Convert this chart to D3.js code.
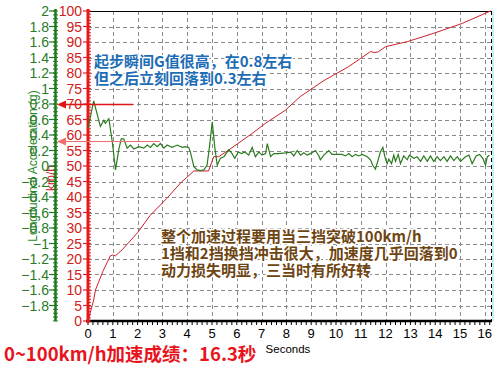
<!DOCTYPE html>
<html><head><meta charset="utf-8">
<script src="https://cdn.jsdelivr.net/npm/d3@7"></script>
<style>body{margin:0;background:#fff}svg{display:block}</style>
</head><body>
<script>
// ---- data ----
const speedData = [[0,0],[0.23,6.8],[0.3,10],[0.6,16],[0.9,21],[1.0,21.3],[1.1,21],[1.38,23],[2.0,28.5],[2.5,34],[3.17,39.5],[3.73,44.5],[4.27,48.4],[4.86,48.4],[5.07,53],[5.27,53],[5.68,55.2],[6.62,60.5],[7.16,63.8],[7.96,68],[8.56,72.4],[9.5,77.5],[10.5,82],[10.99,84.7],[11.39,86.9],[11.55,86.6],[11.7,86.8],[12.0,88.5],[12.87,90.1],[13.94,92.8],[15.09,96],[16.23,100]];
const accelData = [[0,0.49],[0.23,0.84],[0.5,0.51],[0.64,0.59],[0.7,0.55],[0.84,0.61],[0.98,0.31],[1.11,-0.05],[1.24,0.21],[1.34,0.35],[1.44,0.35],[1.58,0.23],[1.71,0.27],[1.85,0.22],[2.05,0.25],[2.25,0.23],[2.39,0.27],[2.52,0.24],[2.65,0.29],[2.79,0.25],[2.92,0.29],[3.06,0.23],[3.19,0.27],[3.39,0.24],[3.6,0.27],[3.8,0.24],[3.93,0.25],[4.06,0.24],[4.13,0.18],[4.27,-0.01],[4.4,-0.05],[4.54,-0.06],[4.67,-0.05],[4.8,0.01],[4.9,0.25],[5.01,0.57],[5.11,0.25],[5.21,0.01],[5.34,0.1],[5.48,0.12],[5.68,0.21],[5.81,0.16],[5.92,0.1],[6.06,0.18],[6.19,0.16],[6.32,0.18],[6.48,0.14],[6.62,0.24],[6.75,0.12],[6.89,0.18],[7.02,0.14],[7.16,0.16],[7.23,0.29],[7.36,0.12],[7.49,0.16],[7.69,0.16],[7.96,0.17],[8.17,0.18],[8.3,0.13],[8.44,0.2],[8.57,0.14],[8.7,0.17],[8.84,0.14],[8.97,0.16],[9.17,0.2],[9.31,0.13],[9.37,0.08],[9.51,0.14],[9.71,0.2],[9.84,0.15],[10.05,0.15],[10.25,0.15],[10.38,0.13],[10.52,0.16],[10.65,0.12],[10.79,0.15],[10.92,0.13],[11.06,0.15],[11.26,0.12],[11.39,0.08],[11.48,0.01],[11.59,-0.04],[11.7,0.08],[11.79,0.18],[11.89,0.24],[11.97,0.12],[12.06,0.03],[12.13,0.09],[12.24,0.03],[12.33,0.14],[12.4,0.06],[12.51,0.15],[12.6,0.03],[12.73,0.13],[12.87,0.08],[12.96,0.14],[13.14,0.1],[13.27,0.12],[13.41,0.06],[13.54,0.13],[13.68,0.06],[13.81,0.13],[13.94,0.06],[14.08,0.12],[14.21,0.07],[14.35,0.12],[14.48,0.06],[14.62,0.13],[14.75,0.07],[14.89,0.12],[15.02,0.06],[15.22,0.12],[15.36,0.14],[15.49,0.03],[15.65,0.13],[15.79,0.15],[15.92,0.1],[16.03,0.01],[16.1,0.12],[16.19,0.14]];
const xTicks = d3.range(0, 17, 1);
const speedTicks = d3.range(0, 101, 5);
const accelTicks = d3.range(-9, 11).map(i => +(i * 0.2).toFixed(1));
const arrowLevels = [0.8, 0.32];
const note1 = ["起步瞬间G值很高，在0.8左右", "但之后立刻回落到0.3左右"];
const note2 = ["整个加速过程要用当三挡突破100km/h", "1挡和2挡换挡冲击很大，加速度几乎回落到0", "动力损失明显，三当时有所好转"];
const resultText = "0~100km/h加速成绩：16.3秒";

// ---- scales ----
const W = 500, H = 370;
const x = d3.scaleLinear().domain([0, 16.25]).range([88, 491]);
const yV = d3.scaleLinear().domain([0, 100]).range([321, 11]);
const yG = d3.scaleLinear().domain([-2, 2]).range([321, 11]);

const svg = d3.select("body").append("svg").attr("width", W).attr("height", H)
  .style("font-family", "Arial, 'Liberation Sans', sans-serif");

// grid
const grid = svg.append("g").attr("stroke", "#8a8a8a").attr("stroke-dasharray", "4,3").attr("stroke-width", 1);
grid.selectAll(".v").data(xTicks.filter(d => d > 0)).join("line")
  .attr("x1", d => Math.round(x(d)) + 0.5).attr("x2", d => Math.round(x(d)) + 0.5)
  .attr("y1", 11).attr("y2", 321);
grid.selectAll(".h").data(speedTicks.filter(d => d > 0 && d < 100)).join("line")
  .attr("y1", d => Math.round(yV(d)) + 0.5).attr("y2", d => Math.round(yV(d)) + 0.5)
  .attr("x1", 88).attr("x2", 491);

// borders
svg.append("line").attr("x1", 88).attr("x2", 491).attr("y1", 11.5).attr("y2", 11.5).attr("stroke", "#000");
svg.append("line").attr("x1", 491.5).attr("x2", 491.5).attr("y1", 11).attr("y2", 321).attr("stroke", "#000").attr("stroke-dasharray", "4,3");
svg.append("line").attr("x1", 493).attr("x2", 493).attr("y1", 11).attr("y2", 321).attr("stroke", "#bff0f5").attr("stroke-width", 2);

// x axis
const xAxis = svg.append("g").attr("transform", "translate(0,321)");
xAxis.append("line").attr("x1", 86).attr("x2", 492).attr("stroke", "#000").attr("stroke-width", 2.5);
xAxis.selectAll(".mt").data(d3.range(0, 16.21, 0.2)).join("line")
  .attr("x1", d => x(d)).attr("x2", d => x(d)).attr("y1", 1).attr("y2", 4).attr("stroke", "#000");
xAxis.selectAll("text").data(xTicks).join("text")
  .attr("x", d => x(d)).attr("y", 17).attr("text-anchor", "middle")
  .attr("font-size", 13).attr("fill", "#000").text(d => d);
svg.append("text").attr("x", 288).attr("y", 353).attr("text-anchor", "middle")
  .attr("font-size", 11.5).attr("fill", "#000").text("Seconds");

// red speed axis
const ra = svg.append("g");
ra.append("text").attr("transform", "translate(55,178) rotate(-90)").attr("text-anchor", "middle")
  .attr("font-size", 12).attr("fill", "#d02020").text("km/h");
ra.selectAll(".mn").data(d3.range(0, 100.1, 1)).join("line")
  .attr("x1", 88).attr("x2", 91).attr("y1", d => yV(d)).attr("y2", d => yV(d)).attr("stroke", "#e02020").attr("stroke-width", 1);
ra.selectAll(".mj").data(speedTicks).join("line")
  .attr("x1", 83).attr("x2", 88).attr("y1", d => yV(d)).attr("y2", d => yV(d)).attr("stroke", "#e02020").attr("stroke-width", 1.2);
ra.selectAll("text.l").data(speedTicks).join("text").attr("class", "l")
  .attr("x", 82).attr("y", d => yV(d) + 5).attr("text-anchor", "end")
  .attr("font-size", 14).attr("fill", "#d02020").text(d => d);
ra.append("line").attr("x1", 88).attr("x2", 88).attr("y1", 9).attr("y2", 323).attr("stroke", "#e81818").attr("stroke-width", 3);

// green accel axis
const ga = svg.append("g");
ga.append("text").attr("transform", "translate(37,166) rotate(-90)").attr("text-anchor", "middle")
  .attr("font-size", 12).attr("fill", "#2a8a2a").text("Longitudinal Acceleration (g)");
ga.selectAll(".mn").data(d3.range(-40, 41).map(i => i * 0.05)).join("line")
  .attr("x1", 53).attr("x2", 58).attr("y1", d => yG(d)).attr("y2", d => yG(d)).attr("stroke", "#1f7a1f").attr("stroke-width", 1);
ga.selectAll(".mj").data(accelTicks).join("line")
  .attr("x1", 49).attr("x2", 55).attr("y1", d => yG(d)).attr("y2", d => yG(d)).attr("stroke", "#1f7a1f").attr("stroke-width", 1.2);
ga.selectAll("text.l").data(accelTicks).join("text").attr("class", "l")
  .attr("x", 49).attr("y", d => yG(d) + 5).attr("text-anchor", "end")
  .attr("font-size", 14).attr("fill", "#2a7a2a").text(d => d3.format("~g")(d));
ga.append("line").attr("x1", 55.5).attr("x2", 55.5).attr("y1", 9).attr("y2", 321).attr("stroke", "#1a7a1a").attr("stroke-width", 2.5);

// series
svg.append("path").datum(speedData)
  .attr("d", d3.line().x(d => x(d[0])).y(d => yV(d[1])))
  .attr("fill", "none").attr("stroke", "#cc1f2a").attr("stroke-width", 1);
svg.append("path").datum(accelData)
  .attr("d", d3.line().x(d => x(d[0])).y(d => yG(d[1])))
  .attr("fill", "none").attr("stroke", "#2a7a1e").attr("stroke-width", 1.2);

// arrows
const arrowEnds = [133, 160];
const arrowCols = ["#e01515", "#f07070"];
arrowLevels.forEach((g, i) => {
  const yy = Math.round(yG(g)) + 0.5;
  svg.append("line").attr("x1", arrowEnds[i]).attr("x2", 63).attr("y1", yy).attr("y2", yy)
    .attr("stroke", arrowCols[i]).attr("stroke-width", i === 0 ? 1.5 : 1.2);
  svg.append("path").attr("d", `M57,${yy} L66,${yy - 4} L66,${yy + 4} Z`).attr("fill", arrowCols[i]);
});

// annotations
function halo(sel, col) {
  sel.attr("fill", col).attr("stroke", "#fff").attr("stroke-width", 3).attr("paint-order", "stroke")
    .attr("stroke-linejoin", "round").attr("font-weight", "bold")
    .style("font-family", "'Noto Sans CJK SC', sans-serif");
}
svg.selectAll(".n1").data(note1).join("text").attr("class", "n1")
  .attr("x", 94).attr("y", (d, i) => 67 + i * 17).attr("font-size", 15).text(d => d)
  .call(halo, "#1d6db5");
svg.selectAll(".n2").data(note2).join("text").attr("class", "n2")
  .attr("x", 161).attr("y", (d, i) => 242 + i * 17).attr("font-size", 15).text(d => d)
  .call(halo, "#6e4512");
svg.append("text").attr("x", 4).attr("y", 361).attr("font-size", 18.5).text(resultText)
  .attr("fill", "#e8141c").attr("font-weight", "bold")
  .style("font-family", "'Noto Sans CJK SC', sans-serif");
</script>
</body></html>
